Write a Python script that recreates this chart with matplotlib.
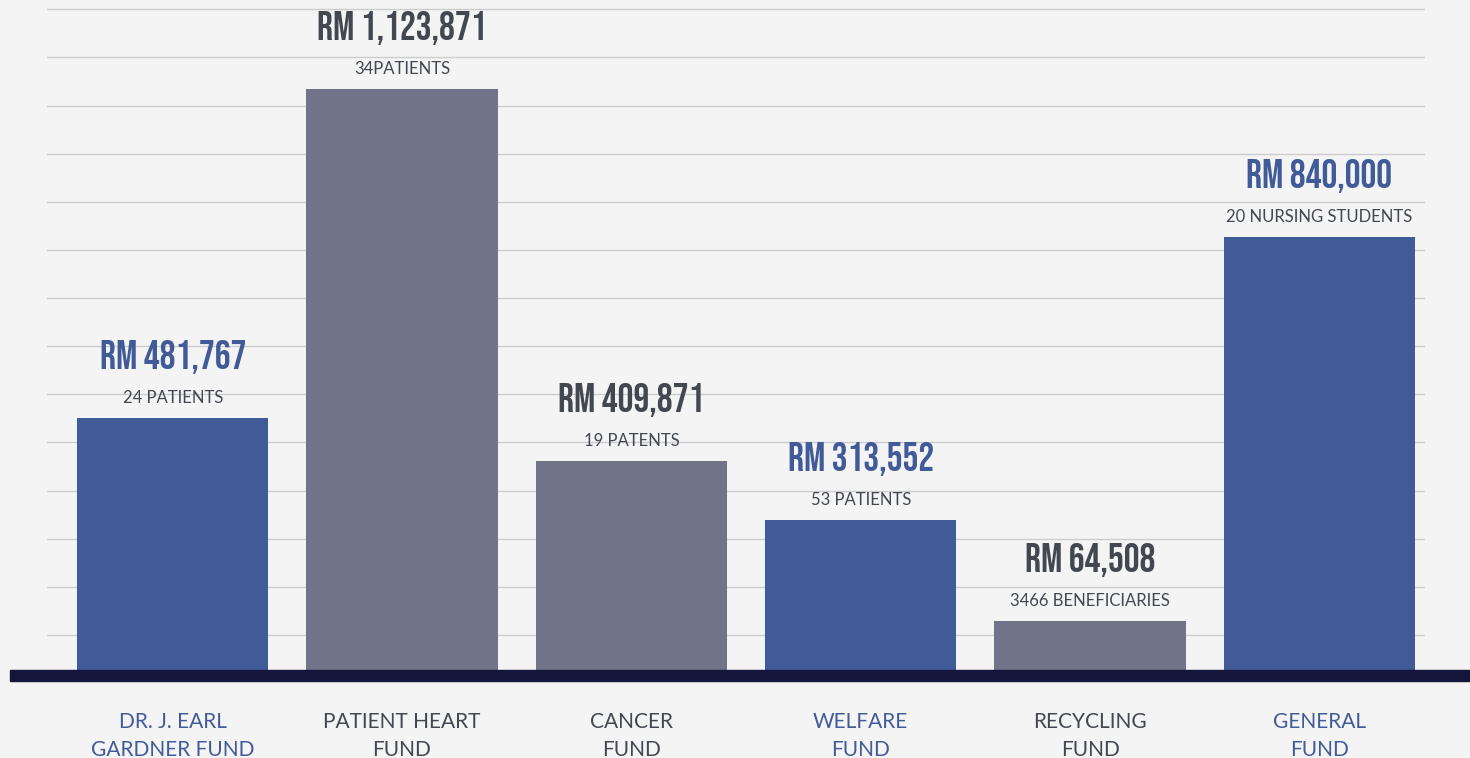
import numpy as np
import matplotlib.pyplot as plt
from matplotlib.patches import Rectangle

# --- data ---
funds = ["DR. J. EARL\nGARDNER FUND", "PATIENT HEART\nFUND", "CANCER\nFUND",
         "WELFARE\nFUND", "RECYCLING\nFUND", "GENERAL\nFUND"]
amounts = [481767, 1123871, 409871, 313552, 64508, 840000]
recipients = ["24 PATIENTS", "34PATIENTS", "19 PATENTS", "53 PATIENTS",
              "3466 BENEFICIARIES", "20 NURSING STUDENTS"]
# bar heights as drawn in the picture (RM)
bar_heights = [487000, 1123871, 404000, 290000, 95000, 837000]

blue = "#415b98"
grey = "#717389"
dark = "#43474f"
bg = "#f4f4f4"
bar_colors = [blue, grey, grey, blue, grey, blue]
text_colors = [blue, dark, dark, blue, dark, blue]

narrow = ["Bebas Neue", "Oswald", "Roboto Condensed", "Liberation Sans Narrow",
          "Open Sans Condensed", "DejaVu Sans Condensed", "DejaVu Sans"]

fig = plt.figure(figsize=(14.7, 7.58), dpi=100, facecolor=bg)
ax = fig.add_axes([47/1470, 88/758, 1378/1470, 670/758], facecolor=bg)

x = np.arange(len(funds))
ax.bar(x, bar_heights, width=0.834, color=bar_colors, zorder=2)

# horizontal guide lines
for gy in np.arange(14) * 93100 + 67700:
    ax.axhline(gy, color="#cccccc", linewidth=1, zorder=1)

ax.set_xlim(-0.548, 5.46)
ax.set_ylim(0, 1296000)
for s in ax.spines.values():
    s.set_visible(False)
ax.set_yticks([])
ax.set_xticks(x)
ax.set_xticklabels(funds, fontsize=15, family=["Lato", "DejaVu Sans"], linespacing=1.45)
ax.tick_params(axis="x", length=0, pad=30.5)
for lbl, c in zip(ax.get_xticklabels(), text_colors):
    lbl.set_color(c)

# value and recipient labels
for xi, h, amt, rec, c in zip(x, bar_heights, amounts, recipients, text_colors):
    ax.annotate(f"RM {amt:,}", (xi, h), xytext=(0, 44), textcoords="offset points",
                ha="center", va="center", fontsize=28.5, fontweight="bold",
                fontstretch="condensed", family=narrow, color=c)
    ax.annotate(rec, (xi, h), xytext=(0, 14.5), textcoords="offset points",
                ha="center", va="center", fontsize=12,
                family=["Lato", "DejaVu Sans"], color=dark)

# thick baseline
fig.patches.append(Rectangle((10/1470, 77/758), 1460/1470, 11/758,
                             transform=fig.transFigure, color="#13163a", zorder=5))

plt.savefig("out.png", dpi=100, facecolor=bg)
